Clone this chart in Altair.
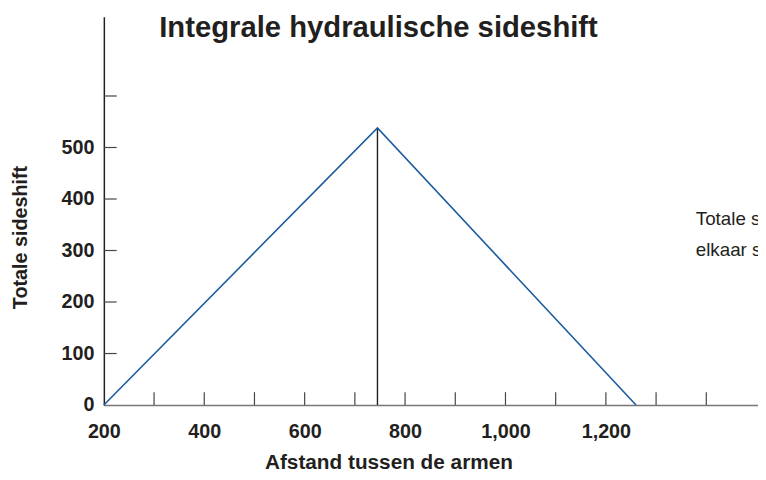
import altair as alt
import pandas as pd

# ---- data ----
distance = [200, 745, 1260]          # Afstand tussen de armen
sideshift = [0, 538, 0]              # Totale sideshift
peak_distance = [745]
peak_top = [538]
x_label_values = [200, 400, 600, 800, 1000, 1200]
x_tick_values = [300, 400, 500, 600, 700, 800, 900, 1000, 1100, 1200, 1300, 1400]
y_label_values = [0, 100, 200, 300, 400, 500]
y_tick_values = [100, 200, 300, 400, 500, 600]
note_lines = ["Totale sideshift als de armen tegen", "elkaar staan"]
note_x = [1379, 1379]
note_y = [362, 300]

W, H = 662, 393
xs = alt.Scale(domain=[200, 1503], nice=False, zero=False)
ys = alt.Scale(domain=[0, 754], nice=False, zero=False)

line_df = pd.DataFrame({"x": distance, "y": sideshift})
peak_df = pd.DataFrame({"x": peak_distance, "y": [0], "y2": peak_top})
xt_df = pd.DataFrame({"x": x_tick_values})
yt_df = pd.DataFrame({"y": y_tick_values})
note_df = pd.DataFrame({"x": note_x, "y": note_y, "t": note_lines})

FONT = "Liberation Sans"
INK = "#231f20"

x_axis = alt.Axis(
    values=x_label_values, format=",d", ticks=False, grid=False,
    domainColor="#777", domainWidth=1.5,
    labelFont=FONT, labelFontWeight="bold", labelFontSize=20, labelColor=INK,
    labelPadding=17, labelFlush=False,
    title="Afstand tussen de armen", titleFont=FONT, titleFontWeight="bold",
    titleFontSize=21, titleColor=INK, titleX=288, titleY=64,
    titleAnchor="start", titleAlign="center", titleBaseline="alphabetic")
y_axis = alt.Axis(
    values=y_label_values, ticks=False, grid=False,
    domainColor=INK, domainWidth=1.5,
    labelFont=FONT, labelFontWeight="bold", labelFontSize=20, labelColor=INK,
    labelPadding=10, labelFlush=False,
    title="Totale sideshift", titleFont=FONT, titleFontWeight="bold",
    titleFontSize=20, titleColor=INK, titleX=-84, titleY=223,
    titleAngle=270, titleAlign="center", titleBaseline="middle")

X = lambda: alt.X("x:Q", scale=xs, axis=x_axis, title="Afstand tussen de armen")
Y = lambda: alt.Y("y:Q", scale=ys, axis=y_axis, title="Totale sideshift")

line = alt.Chart(line_df).mark_line(color="#1b5c9e", strokeWidth=1.6).encode(
    x=X(), y=Y())

peak = alt.Chart(peak_df).mark_rule(color=INK, strokeWidth=1.4).encode(
    x=X(), y=Y(), y2="y2:Q")

xticks = alt.Chart(xt_df).mark_rule(color="#444", strokeWidth=1.2).encode(
    x=X(), y=alt.value(H - 13), y2=alt.value(H))

yticks = alt.Chart(yt_df).mark_rule(color="#444", strokeWidth=1.2).encode(
    y=Y(), x=alt.value(0), x2=alt.value(13))

note = alt.Chart(note_df).mark_text(
    align="left", baseline="middle", font=FONT,
    fontSize=19, color=INK, clip=True,
).encode(x=X(), y=Y(), text="t:N")

chart = alt.layer(yticks, xticks, peak, line, note).properties(
    width=W, height=H,
    title=alt.TitleParams(
        "Integrale hydraulische sideshift", anchor="start", frame="group",
        font=FONT, fontWeight="bold", fontSize=29.6, color=INK,
        offset=0, dx=56, dy=27,
    ),
    autosize=alt.AutoSizeParams(type="none"),
    padding={"left": 97, "top": 6, "right": 0, "bottom": 65},
).configure_view(stroke=None)

chart.save("out.html", embed_options={"renderer": "svg", "actions": False})
